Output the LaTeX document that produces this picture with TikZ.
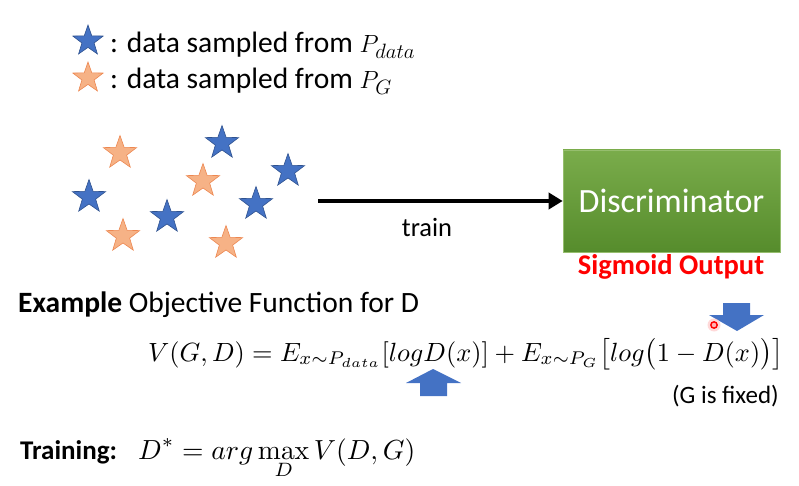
\documentclass[tikz,border=0pt]{standalone}
\usepackage{amsmath}
\usepackage[no-math]{fontspec}
\setmainfont{Carlito}
\usetikzlibrary{shapes.geometric,arrows.meta}
\definecolor{starblue}{RGB}{68,114,196}
\definecolor{starblueedge}{RGB}{47,82,143}
\definecolor{starorange}{RGB}{246,178,134}
\definecolor{starorangeedge}{RGB}{237,135,80}
\definecolor{boxtop}{RGB}{122,172,75}
\definecolor{boxbot}{RGB}{86,140,44}
\definecolor{boxedge}{RGB}{150,190,110}
\definecolor{sigred}{RGB}{255,0,0}
\definecolor{arrowblue}{RGB}{68,114,196}
\tikzset{
  bstar/.style={star, star points=5, star point ratio=2.5, fill=starblue, draw=starblueedge, line width=0.6pt, minimum size=35pt, inner sep=0pt},
  ostar/.style={star, star points=5, star point ratio=2.5, fill=starorange, draw=starorangeedge, line width=0.6pt, minimum size=35pt, inner sep=0pt},
  lbl/.style={inner sep=0pt, anchor=base west},
  bigarrow/.style={fill=arrowblue, draw=none},
}
\begin{document}
\begin{tikzpicture}[x=1pt,y=-1pt]
\useasboundingbox (0,0) rectangle (799,486);
% legend
\node[bstar, minimum size=32pt] (lb) at (88,41) {};
\node[ostar, minimum size=32pt] (lo) at (88,78) {};
\node[lbl, font=\fontsize{29.5}{35}\selectfont] (lt1) at (110,53) {: data sampled from $P_{data}$};
\node[lbl, font=\fontsize{29.5}{35}\selectfont] (lt2) at (110,89) {: data sampled from $P_{G}$};
% scattered stars
\node[ostar] (o1) at (120,153) {};
\node[ostar] (o2) at (203,181) {};
\node[ostar] (o3) at (123,236) {};
\node[ostar] (o4) at (226,243) {};
\node[bstar] (b1) at (222,143) {};
\node[bstar] (b2) at (89,197) {};
\node[bstar] (b3) at (167,217) {};
\node[bstar] (b4) at (256,204) {};
\node[bstar] (b5) at (288,171) {};
% discriminator
\node[draw=boxedge, line width=0.6pt, top color=boxtop, bottom color=boxbot, minimum width=217pt, minimum height=102pt, inner sep=0pt, text=white, font=\fontsize{34}{40}\selectfont] (disc) at (671.5,201) {Discriminator};
\coordinate (astart) at (318,201);
\draw[line width=3.5pt, -{Triangle[length=14pt,width=16pt]}] (astart) -- (disc.west);
\node[font=\fontsize{26.5}{32}\selectfont, inner sep=0pt] (train) at (427,227) {train};
\node[font=\bfseries\fontsize{28.5}{34}\selectfont, text=sigred, inner sep=0pt] (sig) at (671,267) {Sigmoid Output};
% objective
\node[lbl, font=\fontsize{29.5}{35}\selectfont] (ex) at (18,312) {\textbf{Example} Objective Function for D};
\node[lbl] (eq) at (148,361) {\resizebox{635pt}{!}{$V(G,D) = E_{x\sim P_{data}}[logD(x)] + E_{x\sim P_G}\bigl[log\bigl(1-D(x)\bigr)\bigr]$}};
\node[inner sep=0pt, anchor=base east, font=\fontsize{25}{30}\selectfont] (fixed) at (779,403) {(G is fixed)};
% blue arrows
\draw[bigarrow] (433,369) -- (461,383) -- (447,383) -- (447,396) -- (420,396) -- (420,383) -- (406,383) -- cycle;
\draw[bigarrow] (723,303) -- (750,303) -- (750,315) -- (764,315) -- (737,331) -- (709,315) -- (723,315) -- cycle;
% pointer dot
\fill[red!25, opacity=0.6] (714,325) circle (6.5pt);
\draw[red, line width=1.4pt, fill=red!30] (714,325) circle (3.2pt);
% training
\node[lbl, font=\bfseries\fontsize{27}{32}\selectfont] (tr) at (20,459) {Training:};
\node[lbl] (treq) at (138,459) {\resizebox{277pt}{!}{$\displaystyle D^{*} = arg\max_{D} V(D,G)$}};
\end{tikzpicture}
\end{document}
